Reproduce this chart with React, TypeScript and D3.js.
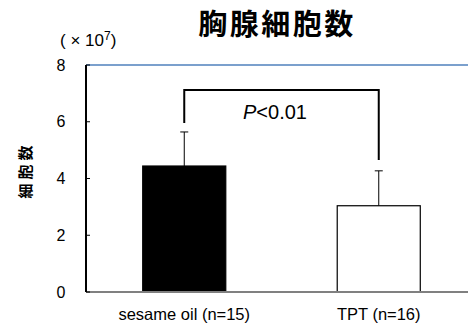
import React from "react";
import * as d3 from "d3";

const categories = ["sesame oil (n=15)", "TPT (n=16)"];
const means = [4.44, 3.04];
const sds = [1.2, 1.23];
const fills = ["#000000", "#ffffff"];
const yTicks = [0, 2, 4, 6, 8];
const bracketTop = 7.12;
const bracketEnds = [5.96, 4.65];

const W = 468;
const H = 327;
const sans = "'Liberation Sans', Arial, sans-serif";
const cjk = "'Noto Sans CJK JP', sans-serif";

export default function App() {
  const y = d3.scaleLinear().domain([0, 8]).range([292, 65]);
  const x = d3.scaleBand<string>().domain(categories).range([87, 476]).padding(0);
  const cx = (c: string) => (x(c) ?? 0) + x.bandwidth() / 2;
  const barW = x.bandwidth() * 0.427;

  return (
    <svg
      width={W}
      height={H}
      style={{ position: "absolute", left: 0, top: 0, background: "#fff" }}
    >
      {/* title */}
      <text
        x={277}
        y={35}
        textAnchor="middle"
        fontFamily={cjk}
        fontWeight="bold"
        fontSize={29}
        letterSpacing={2.5}
      >
        胸腺細胞数
      </text>

      {/* unit */}
      <text x={60} y={46} fontFamily={sans} fontSize={17}>
        ( × 10<tspan fontSize={12} dy={-6}>7</tspan>
        <tspan dy={6}>)</tspan>
      </text>

      {/* y-axis title */}
      <text
        transform={`translate(31,170) rotate(-90)`}
        textAnchor="middle"
        fontFamily={cjk}
        fontWeight="bold"
        fontSize={15}
        letterSpacing={4}
      >
        細胞数
      </text>

      {/* top reference line */}
      <line x1={86} x2={W} y1={y(8)} y2={y(8)} stroke="#4f81bd" strokeWidth={1.5} />

      {/* bars */}
      {categories.map((c, i) => (
        <g key={c}>
          <line
            x1={cx(c)}
            x2={cx(c)}
            y1={y(means[i])}
            y2={y(means[i] + sds[i])}
            stroke="#000"
            strokeWidth={1}
          />
          <line
            x1={cx(c) - 4}
            x2={cx(c) + 4}
            y1={y(means[i] + sds[i])}
            y2={y(means[i] + sds[i])}
            stroke="#000"
            strokeWidth={1}
          />
          <rect
            x={cx(c) - barW / 2}
            y={y(means[i])}
            width={barW}
            height={y(0) - y(means[i])}
            fill={fills[i]}
            stroke="#000"
            strokeWidth={1.2}
          />
        </g>
      ))}

      {/* baseline */}
      <line x1={86} x2={W} y1={y(0)} y2={y(0)} stroke="#808080" strokeWidth={2} />

      {/* y axis */}
      <line x1={86} x2={86} y1={y(8)} y2={y(0)} stroke="#000" strokeWidth={2} />
      {yTicks.map((t) => (
        <g key={t}>
          <line x1={86} x2={90} y1={y(t)} y2={y(t)} stroke="#000" strokeWidth={1} />
          <text
            x={61}
            y={y(t)}
            dy="0.35em"
            textAnchor="middle"
            fontFamily={sans}
            fontSize={16}
          >
            {t}
          </text>
        </g>
      ))}

      {/* category labels */}
      {categories.map((c) => (
        <text
          key={c}
          x={cx(c)}
          y={320}
          textAnchor="middle"
          fontFamily={sans}
          fontSize={16.5}
        >
          {c}
        </text>
      ))}

      {/* significance bracket */}
      <path
        d={`M${cx(categories[0])},${y(bracketEnds[0])}V${y(bracketTop)}H${cx(
          categories[1]
        )}V${y(bracketEnds[1])}`}
        fill="none"
        stroke="#000"
        strokeWidth={2}
      />
      <text
        x={275}
        y={119}
        textAnchor="middle"
        fontFamily={sans}
        fontSize={20}
      >
        <tspan fontStyle="italic">P</tspan>&lt;0.01
      </text>
    </svg>
  );
}
